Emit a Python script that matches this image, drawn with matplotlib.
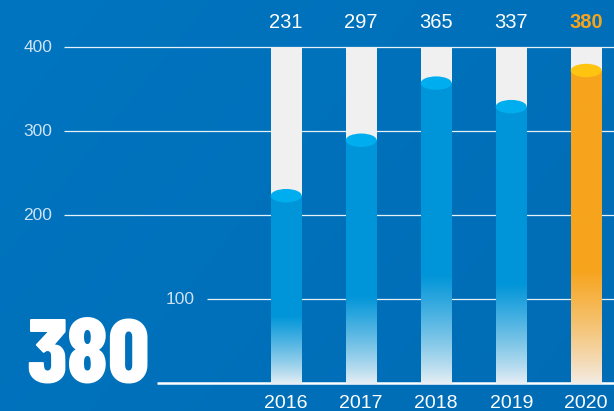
import numpy as np
import matplotlib
matplotlib.use("Agg")
import matplotlib.pyplot as plt
from matplotlib.patches import Rectangle, Ellipse
from matplotlib.colors import to_rgb

# ---------------------------------------------------------------------------
# Data
# ---------------------------------------------------------------------------
years = ["2016", "2017", "2018", "2019", "2020"]
values = [231, 297, 365, 337, 380]
highlight = [False, False, False, False, True]
y_ticks = [100, 200, 300, 400]

# ---------------------------------------------------------------------------
# Style
# ---------------------------------------------------------------------------
BG = "#0072bd"
TRACK = "#f0f0f0"
BLUE_BODY, BLUE_CAP, BLUE_FOOT = "#0095d9", "#00aeef", "#eaf0f5"
ORNG_BODY, ORNG_CAP, ORNG_FOOT = "#f7a41d", "#ffc40f", "#f3ede8"
TICK_C = "#cfe2f3"
plt.rcParams["font.family"] = ["Liberation Sans", "DejaVu Sans"]

W, H, DPI = 6.14, 4.11, 100
PX_PER_UNIT = 0.84       # vertical pixels per data unit
PX_PER_CAT = 75.0        # horizontal pixels per category
X0_PX, Y0_PX = 286.2, 383.0
BAR_W = 31 / PX_PER_CAT
CAP_H = 16.0

fig = plt.figure(figsize=(W, H), dpi=DPI)
fig.patch.set_facecolor(BG)

# subtle diagonal shading of the backdrop
bg_ax = fig.add_axes([0, 0, 1, 1], zorder=0)
gx, gy = np.meshgrid(np.linspace(0, 1, 200), np.linspace(0, 1, 140))
t = np.clip(0.65 * gx + 0.35 * gy, 0, 1)[..., None]
c0, c1 = np.array(to_rgb("#0075c0")), np.array(to_rgb("#006cb5"))
bg_ax.imshow(c0 * (1 - t) + c1 * t, aspect="auto", extent=[0, 1, 0, 1],
             origin="upper")
bg_ax.set_axis_off()

ax = fig.add_axes([0, 0, 1, 1], zorder=1)
ax.patch.set_alpha(0)
ax.set_xlim(-X0_PX / PX_PER_CAT, (W * DPI - X0_PX) / PX_PER_CAT)
ax.set_ylim(-(H * DPI - Y0_PX) / PX_PER_UNIT, Y0_PX / PX_PER_UNIT)
ax.set_axis_off()

x = np.arange(len(years))
ymax = max(y_ticks)

# gridlines and tick labels
grid_start = {100: (207 - X0_PX) / PX_PER_CAT}
for yt in y_ticks:
    xs = grid_start.get(yt, (64 - X0_PX) / PX_PER_CAT)
    ax.plot([xs, ax.get_xlim()[1]], [yt, yt], color="white", lw=0.9,
            alpha=0.9, zorder=1, solid_capstyle="butt")
    ax.text(xs - 12 / PX_PER_CAT, yt, str(yt), color=TICK_C, fontsize=12.5,
            ha="right", va="center", zorder=1)

# baseline
ax.plot([(157 - X0_PX) / PX_PER_CAT, ax.get_xlim()[1]], [0, 0],
        color="white", lw=1.8, zorder=1, solid_capstyle="butt")


def fade_image(body, foot, v, n=256):
    yy = np.linspace(0, v, n)
    tt = np.clip(yy / (0.36 * v), 0, 1) ** 0.85
    b, f = np.array(to_rgb(body)), np.array(to_rgb(foot))
    rgb = f * (1 - tt[:, None]) + b * tt[:, None]
    return rgb[:, None, :]


for xi, v, hl, yr in zip(x, values, highlight, years):
    body, cap, foot = (ORNG_BODY, ORNG_CAP, ORNG_FOOT) if hl else \
        (BLUE_BODY, BLUE_CAP, BLUE_FOOT)
    left = xi - BAR_W / 2

    # full-height track
    ax.add_patch(Rectangle((left, -1.5), BAR_W, ymax + 1.5,
                           facecolor=TRACK, edgecolor="none", zorder=2))

    # gradient-filled body
    top = v - CAP_H / 2
    clip = Rectangle((left, -1.5), BAR_W, top + 1.5, transform=ax.transData,
                     facecolor="none", edgecolor="none")
    ax.add_patch(clip)
    im = ax.imshow(fade_image(body, foot, top), extent=[left, left + BAR_W, -1.5, top],
                   origin="lower", aspect="auto", zorder=3,
                   interpolation="bilinear")
    im.set_clip_path(clip)

    # cylinder cap
    ax.add_patch(Ellipse((xi, top), BAR_W, CAP_H, facecolor=cap,
                         edgecolor="none", zorder=4))

    # value label
    ax.text(xi, (Y0_PX - 22) / PX_PER_UNIT, str(v),
            color=ORNG_BODY if hl else "white", fontsize=14.5,
            fontweight="bold" if hl else "normal",
            ha="center", va="center", zorder=5)

    # year label
    ax.text(xi, -(403.5 - Y0_PX) / PX_PER_UNIT, yr, color="white",
            fontsize=14, ha="center", va="center", zorder=5)

# headline figure
ax.text((26 - X0_PX) / PX_PER_CAT, 0, str(values[-1]), color="white",
        fontsize=66, fontweight=800,
        family=["Barlow Condensed", "DejaVu Sans"],
        ha="left", va="baseline", zorder=5)

fig.savefig("out.png", dpi=DPI, facecolor=BG)
